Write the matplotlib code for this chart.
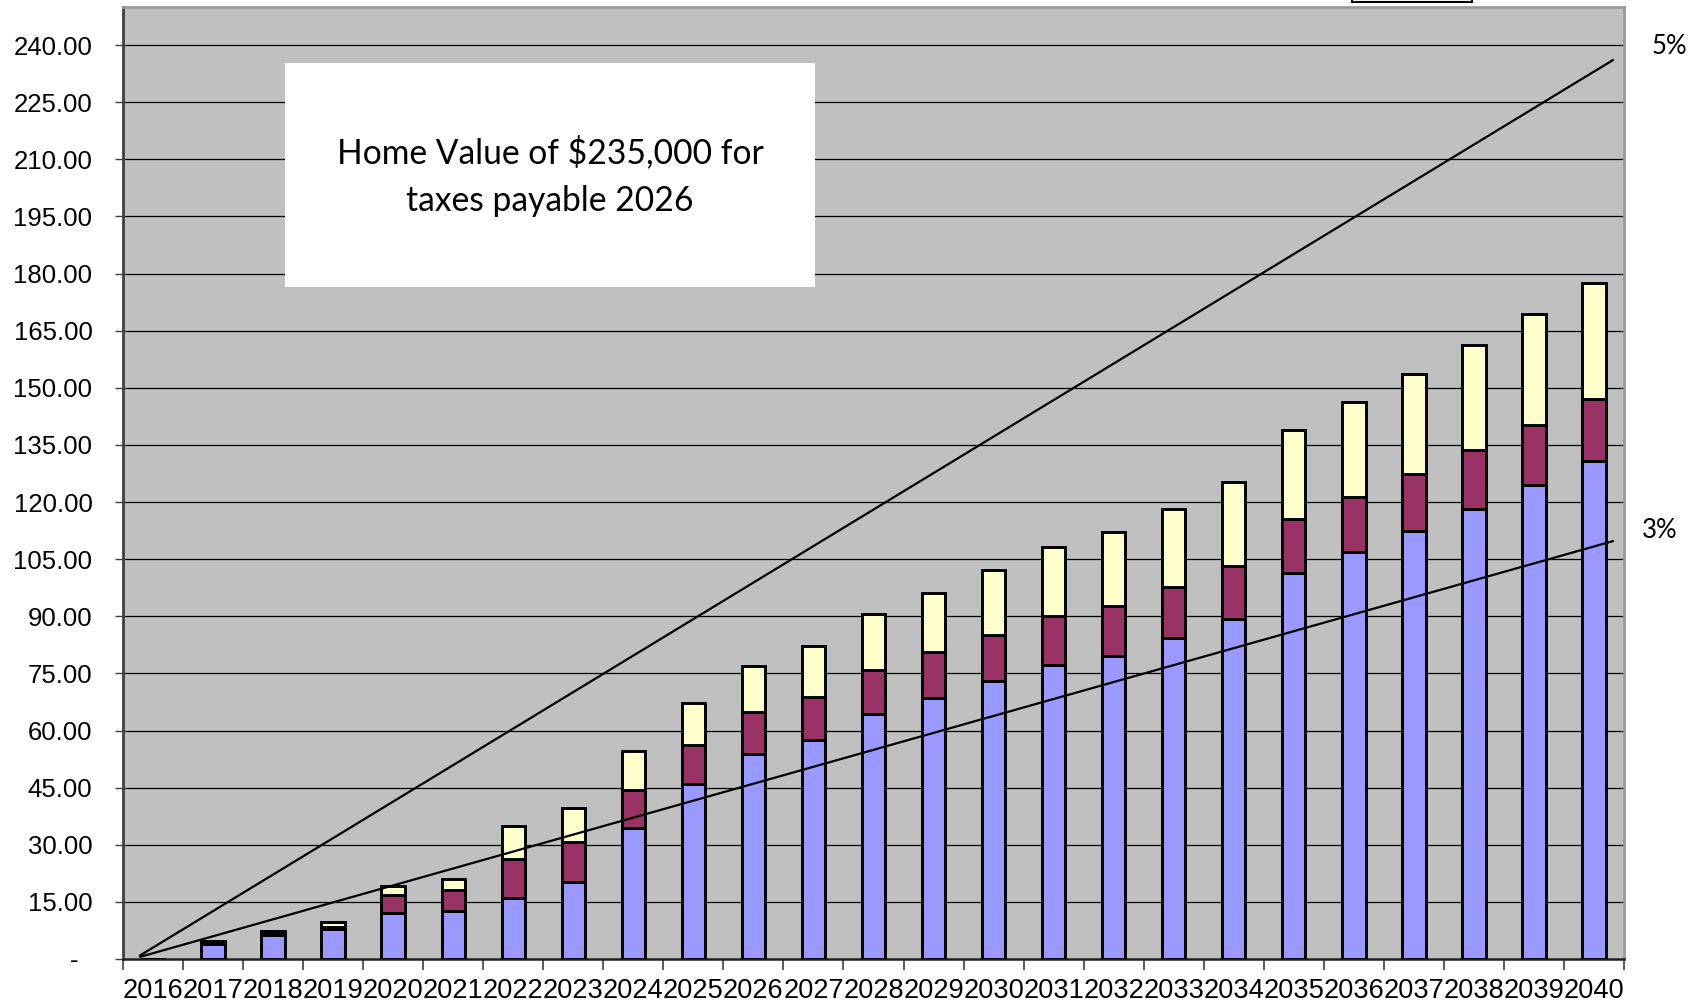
import numpy as np
import matplotlib
matplotlib.use("Agg")
import matplotlib.pyplot as plt
from matplotlib import font_manager
from matplotlib.patches import Rectangle

# ---------------- data ----------------
years = [str(y) for y in range(2016, 2041)]
base = [0, 3.9, 6.4, 8.0, 12.2, 12.7, 16.0, 20.1, 34.3, 46.0, 53.9, 57.6, 64.3,
        68.5, 72.9, 77.3, 79.6, 84.2, 89.3, 101.3, 106.8, 112.5, 118.3, 124.4, 130.8]
middle = [0, 0.5, 0.5, 0.4, 4.6, 5.3, 10.2, 10.5, 10.1, 10.1, 10.9, 11.3, 11.7,
          12.0, 12.2, 12.7, 13.1, 13.5, 13.8, 14.3, 14.5, 14.9, 15.3, 15.8, 16.2]
top = [0, 0.4, 0.4, 1.3, 2.5, 3.0, 8.8, 9.1, 10.1, 11.1, 12.2, 13.4, 14.5,
       15.6, 17.0, 18.1, 19.4, 20.6, 22.1, 23.4, 24.9, 26.1, 27.7, 29.2, 30.5]
# reference growth lines (drawn shapes in the original)
line_x = [-0.23, 24.33]
rate5 = [0.8, 236.2]
rate3 = [0.5, 109.8]
yticks = np.arange(0, 241, 15)
title_txt = "Home Value of $235,000 for\ntaxes payable 2026"

C_BLUE, C_PURP, C_YEL, BG = "#9999FF", "#993366", "#FFFFCC", "#C0C0C0"

def has_font(name):
    try:
        font_manager.findfont(name, fallback_to_default=False)
        return True
    except Exception:
        return False

narrow = has_font("Liberation Sans Narrow")
XFONT = "Liberation Sans Narrow" if narrow else "Liberation Sans"
XSIZE = 23 if narrow else 19.6

W, H = 1703, 1007
fig = plt.figure(figsize=(W / 100, H / 100), dpi=100)
ax = fig.add_axes([123 / W, 1 - 959 / H, 1501 / W, 952 / H])
ax.set_facecolor(BG)

x = np.arange(len(years))
b = np.array(base); m = np.array(middle); t = np.array(top)
kw = dict(width=0.39, edgecolor="black", linewidth=2.1, zorder=3)
ax.bar(x, b, color=C_BLUE, **kw)
ax.bar(x, m, bottom=b, color=C_PURP, **kw)
ax.bar(x, t, bottom=b + m, color=C_YEL, **kw)

ax.plot(line_x, rate5, color="black", lw=1.6, zorder=4, solid_capstyle="butt")
ax.plot(line_x, rate3, color="black", lw=1.6, zorder=4, solid_capstyle="butt")

ax.set_xlim(-0.5, len(years) - 0.5)
ax.set_ylim(0, 250)
for yv in yticks[1:]:
    ax.axhline(yv, color="black", lw=0.9, zorder=1)

ax.set_yticks(yticks)
ax.set_yticklabels(["-  "] + [f"{v:.2f}" for v in yticks[1:]],
                   fontsize=18.5, family="Liberation Sans")
ax.tick_params(axis="y", direction="out", length=6, width=1, pad=16, color="#404040")

ax.set_xticks(np.arange(-0.5, len(years)), labels=[])
ax.set_xticks(x, minor=True)
ax.set_xticklabels(years, minor=True, fontsize=XSIZE, family=XFONT)
ax.tick_params(axis="x", which="major", direction="out", length=8, width=1.2, color="#404040")
ax.tick_params(axis="x", which="minor", length=0, pad=14)

ax.spines["left"].set_color("#404040"); ax.spines["left"].set_linewidth(2)
ax.spines["bottom"].set_color("#202020"); ax.spines["bottom"].set_linewidth(1.8)
ax.spines["top"].set_color("#9a9a9a"); ax.spines["top"].set_linewidth(2)
ax.spines["right"].set_color("#9a9a9a"); ax.spines["right"].set_linewidth(2)

# white text box
fig.patches.append(Rectangle((285 / W, 1 - 287 / H), 530 / W, 224 / H,
                             transform=fig.transFigure, facecolor="white",
                             edgecolor="none", zorder=5))
fig.text(550 / W, 1 - 176 / H, title_txt, ha="center", va="center",
         fontsize=24.2, family="Lato", linespacing=1.6, zorder=6)

fig.text(1669 / W, 1 - 46 / H, "5%", ha="center", va="center", fontsize=18.5, family="Lato")
fig.text(1660 / W, 1 - 531 / H, "3%", ha="center", va="center", fontsize=18.5, family="Lato")

# cut-off box at the top edge
fig.patches.append(Rectangle((1352 / W, 1 - 2 / H), 120 / W, 10 / H,
                             transform=fig.transFigure, facecolor="white",
                             edgecolor="black", lw=1.5, zorder=5))

fig.savefig("out.png", dpi=100)
